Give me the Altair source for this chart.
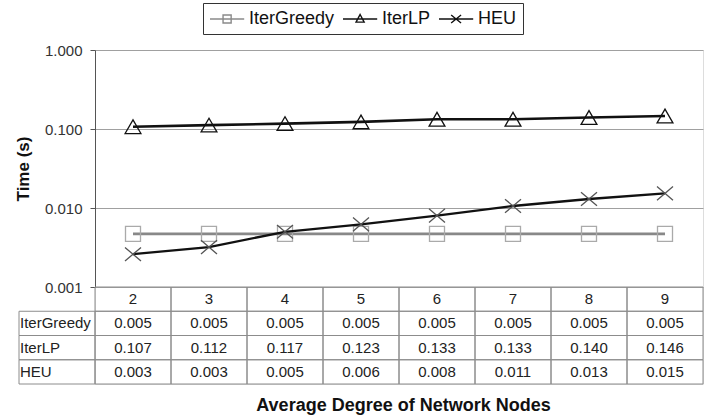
import altair as alt
import pandas as pd

# ---- data ----
degrees = ["2", "3", "4", "5", "6", "7", "8", "9"]
series_names = ["IterGreedy", "IterLP", "HEU"]
iter_greedy = [0.0047, 0.0047, 0.0047, 0.0047, 0.0047, 0.0047, 0.0047, 0.0047]
iter_lp = [0.107, 0.112, 0.117, 0.123, 0.133, 0.133, 0.140, 0.146]
heu = [0.0026, 0.0032, 0.0050, 0.0062, 0.0080, 0.0106, 0.0130, 0.0153]
y_ticks = [0.001, 0.01, 0.1, 1.0]
x_title = "Average Degree of Network Nodes"
y_title = "Time (s)"

FONT = "Liberation Sans"

values_by_series = {"IterGreedy": iter_greedy, "IterLP": iter_lp, "HEU": heu}

rows = []
for s in series_names:
    for d, v in zip(degrees, values_by_series[s]):
        rows.append({"series": s, "deg": d, "value": v})
df = pd.DataFrame(rows)

# table cells
cells = []
for d in degrees:
    cells.append({"row": "hdr", "col": d, "text": d, "kind": "value"})
for s in series_names:
    cells.append({"row": s, "col": "lbl", "text": s, "kind": "label"})
    for d, v in zip(degrees, values_by_series[s]):
        cells.append({"row": s, "col": d, "text": f"{v:.3f}", "kind": "value"})
tdf = pd.DataFrame(cells)

W, H = 608, 334
PLOT_H = 237

xp = alt.X(
    "deg:N",
    sort=degrees,
    scale=alt.Scale(type="point", domain=degrees, padding=0.5),
    axis=alt.Axis(
        title=x_title, labels=False, ticks=False, domain=False, grid=False,
        titleFont=FONT, titleFontSize=18, titleFontWeight="bold", titleColor="#111",
        titlePadding=12, titleX=308,
    ),
)
yp = alt.Y(
    "value:Q",
    scale=alt.Scale(type="log", domain=[0.001, 1], range=[PLOT_H, 0], nice=False),
    axis=alt.Axis(
        title=y_title, values=y_ticks, format=".3f", grid=True, gridColor="#a0a0a0",
        gridWidth=1, domainColor="#555", tickColor="#555", tickSize=5,
        labelFont=FONT, labelFontSize=15, labelColor="#333", labelPadding=8,
        titleFont=FONT, titleFontSize=17, titleFontWeight="bold", titleColor="#111",
        titlePadding=12,
    ),
)

styles = {
    "IterGreedy": dict(line="#888888", lw=2.8, shape="square", mcol="#aaaaaa", size=225),
    "IterLP": dict(line="#111111", lw=2.6, shape="triangle-up", mcol="#111111", size=250),
    "HEU": dict(line="#111111", lw=2.3, shape="M-1,-0.85L1,0.85M-1,0.85L1,-0.85", mcol="#555555", size=256),
}

plot_layers = []
for s in series_names:
    st = styles[s]
    base = alt.Chart(df).transform_filter(alt.datum.series == s)
    plot_layers.append(base.mark_line(color=st["line"], strokeWidth=st["lw"]).encode(x=xp, y=yp))
    plot_layers.append(
        base.mark_point(shape=st["shape"], filled=False, color=st["mcol"], size=st["size"],
                        strokeWidth=1.3, opacity=1).encode(x=xp, y=yp)
    )

legend_paths = [
    "M-1,0H2.8M0.45,-0.45H1.35V0.45H0.45Z",
    "M-1,0H2.8M0.9,-0.5L1.35,0.35H0.45Z",
    "M-1,0H2.8M0.35,-0.45L1.45,0.45M0.35,0.45L1.45,-0.45",
]
legend_colors = ["#8a8a8a", "#111111", "#111111"]
leg = alt.Legend(
    title=None, orient="none", legendX=108, legendY=-47, direction="horizontal",
    padding=6, strokeColor="#333", fillColor="white",
    labelFont=FONT, labelFontSize=18, labelColor="#111", labelOffset=20,
    symbolSize=324, symbolStrokeWidth=1.4, symbolOpacity=1, columnPadding=5,
)
legend_layer = alt.Chart(df).mark_point(filled=False, opacity=0).encode(
    x=xp, y=yp,
    color=alt.Color("series:N", scale=alt.Scale(domain=series_names, range=legend_colors), legend=leg),
    shape=alt.Shape("series:N", scale=alt.Scale(domain=series_names, range=legend_paths), legend=leg),
)
plot_layers.append(legend_layer)
plot = alt.layer(*plot_layers)

# ---- data table under the plot ----
xscale_t = alt.Scale(type="band", domain=["lbl"] + degrees, range=[-76, W], paddingInner=0, paddingOuter=0)
yscale_t = alt.Scale(type="band", domain=["hdr"] + series_names, range=[PLOT_H, H], paddingInner=0, paddingOuter=0)
xt = alt.X("col:N", scale=xscale_t, axis=None)
yt = alt.Y("row:N", scale=yscale_t, axis=None)

rects = alt.Chart(tdf).mark_rect(fill="white", fillOpacity=0, stroke="#8c8c8c", strokeWidth=1).encode(x=xt, y=yt)
vals = alt.Chart(tdf).transform_filter(alt.datum.kind == "value").mark_text(
    align="center", baseline="middle", font=FONT, fontSize=15, color="#222"
).encode(x=xt, y=yt, text="text:N")
labels = alt.Chart(tdf).transform_filter(alt.datum.kind == "label").mark_text(
    align="left", baseline="middle", font=FONT, fontSize=15, color="#222", dx=1
).encode(x=alt.X("col:N", scale=xscale_t, axis=None, bandPosition=0), y=yt, text="text:N")
table = alt.layer(rects, vals, labels)

chart = (
    alt.layer(plot, table)
    .resolve_scale(x="independent", y="independent")
    .properties(
        width=W, height=H,
        autosize=alt.AutoSizeParams(type="none"),
        padding={"left": 95, "top": 50, "right": 1, "bottom": 35},
        background="white",
    )
    .configure_view(stroke="#9a9a9a", strokeWidth=1)
    .configure(font=FONT)
)

chart.save("out.html", embed_options={"renderer": "svg", "actions": False})
